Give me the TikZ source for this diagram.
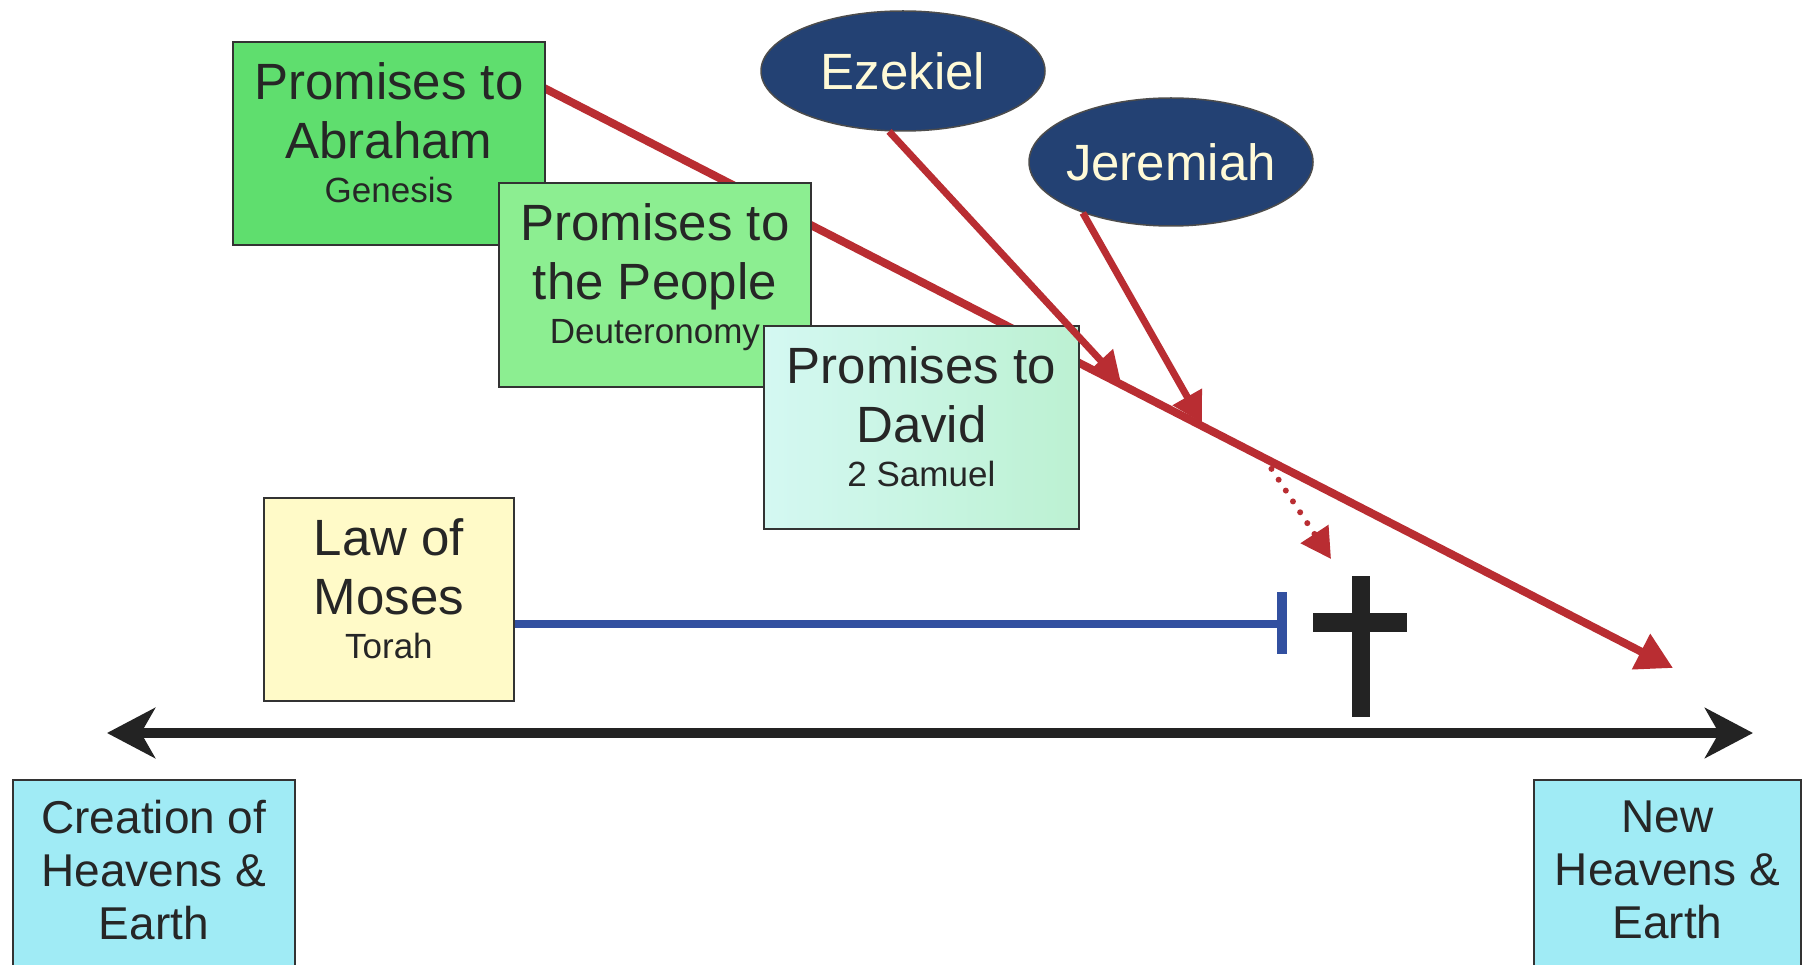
\documentclass[tikz,border=0pt]{standalone}
\usepackage{fontspec}
\setmainfont{Liberation Sans}
\usetikzlibrary{shapes.geometric, arrows.meta, calc}
\definecolor{abrgreen}{RGB}{95,222,110}
\definecolor{pplgreen}{RGB}{140,238,145}
\definecolor{davleft}{RGB}{212,248,242}
\definecolor{davright}{RGB}{188,241,210}
\definecolor{lawyellow}{RGB}{255,250,200}
\definecolor{heavcyan}{RGB}{160,235,245}
\definecolor{navy}{RGB}{35,65,115}
\definecolor{cream}{RGB}{255,250,215}
\definecolor{redline}{RGB}{185,45,50}
\definecolor{blueline}{RGB}{50,80,160}
\definecolor{crossblack}{RGB}{35,35,35}
\tikzset{
  box/.style={draw=black!80, line width=1.8pt, align=center, inner sep=0pt, anchor=north west,
    font=\fontsize{51}{59}\selectfont, text=black!85, text depth=22pt},
  prophet/.style={ellipse, draw=black!70, line width=1.5pt, fill=navy, text=cream, inner sep=0pt,
    inner xsep=-6pt, minimum width=284pt, font=\fontsize{51}{59}\selectfont},
  redarrow/.style={draw=redline, line width=8pt, -{Triangle[length=36pt,width=38pt]}},
  proarrow/.style={draw=redline, line width=7pt, -{Triangle[length=30pt,width=32pt]}, shorten >=5pt}
}
\newcommand{\subtxt}[1]{{\fontsize{35}{42}\selectfont #1}}
\begin{document}
\begin{tikzpicture}[x=1pt,y=-1pt]
\useasboundingbox (0,0) rectangle (1807,965);
\clip (0,0) rectangle (1807,965);
\fill[white] (0,0) rectangle (1807,965);

% coordinates of the promise line
\coordinate (redstart) at (544,88);
\coordinate (redtip) at (1673,668);
\draw[redarrow] (redstart) -- (redtip);

% promise boxes
\node[box, fill=abrgreen, minimum width=312pt, minimum height=203pt] (abr) at (232,41)
  {Promises to\\Abraham\\[-15pt]\subtxt{Genesis}};
\node[box, fill=pplgreen, minimum width=312pt, minimum height=204pt] (ppl) at (498,182)
  {Promises to\\the People\\[-15pt]\subtxt{Deuteronomy}};
\node[box, left color=davleft, right color=davright, minimum width=315pt, minimum height=203pt] (dav) at (763,325)
  {Promises to\\David\\[-15pt]\subtxt{2 Samuel}};

% law of Moses
\node[box, fill=lawyellow, minimum width=250pt, minimum height=203pt] (law) at (263,497)
  {Law of\\Moses\\[-15pt]\subtxt{Torah}};

% creation / new creation
\node[box, fill=heavcyan, minimum width=282pt, minimum height=200pt, text depth=21pt,
      font=\fontsize{46}{53}\selectfont] (cre) at (12,779)
  {Creation of\\Heavens \&\\Earth};
\node[box, fill=heavcyan, minimum width=267pt, minimum height=200pt, text depth=21pt,
      font=\fontsize{46}{53}\selectfont] (new) at (1533,779)
  {New\\Heavens \&\\Earth};

% prophets
\node[prophet, minimum height=120pt] (ezek) at (903,71) {Ezekiel};
\node[prophet, minimum height=128pt] (jer) at (1171,162) {Jeremiah};

\coordinate (ezekhit) at ($(redstart)!0.514!(redtip)$);
\coordinate (jerhit) at ($(redstart)!0.585!(redtip)$);
\coordinate (dotstart) at ($(redstart)!0.638!(redtip)$);
\coordinate (dotend) at (1331,559);

\draw[proarrow] (ezek.257) -- (ezekhit);
\draw[proarrow] (jer.210) -- (jerhit);
\draw[draw=redline, line width=6pt, line cap=round, dash pattern=on 0pt off 13pt,
      -{Triangle[length=30pt,width=32pt]}] (dotstart) -- (dotend);

% law line
\coordinate (lawend) at (1282,624);
\draw[blueline, line width=8pt] (law.east |- lawend) -- (lawend);
\draw[blueline, line width=10pt] ($(lawend)+(0,-32)$) -- ($(lawend)+(0,30)$);

% cross
\fill[crossblack] (1352,576) rectangle (1370,717);
\fill[crossblack] (1313,613) rectangle (1407,632);

% timeline
\coordinate (tlleft) at (107,733);
\coordinate (tlright) at (1753,733);
\draw[crossblack, line width=10pt, {Stealth[length=48pt,width=50pt,inset=14pt]}-{Stealth[length=48pt,width=50pt,inset=14pt]}] (tlleft) -- (tlright);
\end{tikzpicture}
\end{document}
